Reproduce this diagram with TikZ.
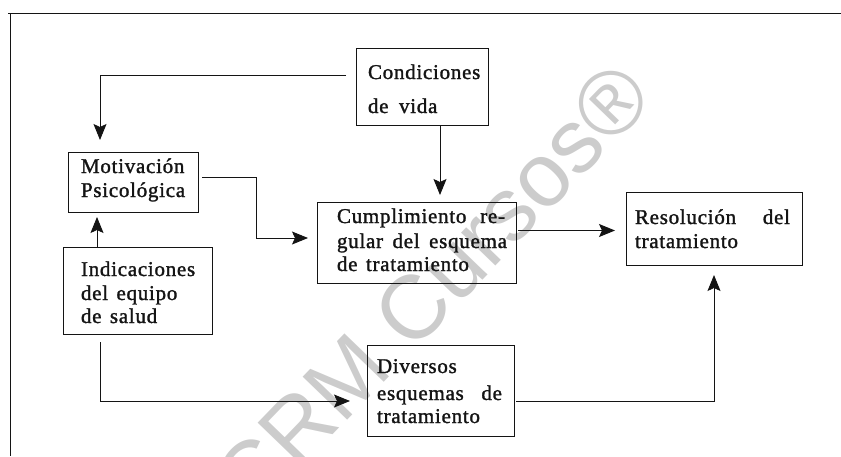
\documentclass[tikz,border=0pt]{standalone}
\usepackage{fontspec}
\setmainfont{Liberation Serif}[LetterSpace=3.5,FakeBold=1.4]
\newfontfamily\wmfont{Liberation Sans}
\usetikzlibrary{arrows.meta}
\definecolor{ink}{gray}{0.08}
\definecolor{wmgray}{gray}{0.80}
\tikzset{
  boxnode/.style={draw=ink, line width=0.9pt, inner sep=0pt, outer sep=0pt},
  txt/.style={anchor=base west, inner sep=0pt, outer sep=0pt, text=ink, font=\fontsize{21}{24}\selectfont},
  arr/.style={draw=ink, line width=0.9pt, -{Stealth[length=16pt,width=13pt,inset=3pt]}},
  framestyle/.style={draw=ink, line width=0.9pt},
  wm/.style={text=wmgray, inner sep=0pt, font=\wmfont\fontsize{90}{90}\selectfont}
}
\begin{document}
\begin{tikzpicture}[x=1pt,y=-1pt]
\useasboundingbox (0,0) rectangle (841,456);
% watermark
\node[wm, rotate=46] (wmark) at (432,288) {CRM Cursos®};
% frame
\draw[framestyle] (841,13) -- (8,13);
\draw[framestyle] (10,13) -- (10,456);
% boxes
\node[boxnode, minimum width=132pt, minimum height=77pt] (cond) at (422,86.5) {};
\node[boxnode, minimum width=130pt, minimum height=60pt] (motiv) at (133,182) {};
\node[boxnode, minimum width=199pt, minimum height=81pt] (cump) at (416.5,242.5) {};
\node[boxnode, minimum width=176pt, minimum height=73pt] (res) at (714,228.5) {};
\node[boxnode, minimum width=149pt, minimum height=87pt] (ind) at (137.5,290.5) {};
\node[boxnode, minimum width=147pt, minimum height=91pt] (div) at (440.5,390.5) {};
% texts
\node[txt] (cond1) at (368,79) {Condiciones};
\node[txt] (cond2) at (368,113) {de\hspace{0.5em}vida};
\node[txt] (mot1) at (81,173) {Motivación};
\node[txt] (mot2) at (81,197) {Psicológica};
\node[txt] (cum1) at (337,223) {\makebox[168pt][s]{Cumplimiento re-}};
\node[txt] (cum2) at (337,248) {\makebox[170pt][s]{gular del esquema}};
\node[txt] (cum3) at (337,271) {de\hspace{0.4em}tratamiento};
\node[txt] (res1) at (635,224) {\makebox[155pt][s]{Resolución del}};
\node[txt] (res2) at (635,248) {tratamiento};
\node[txt] (ind1) at (81,276) {Indicaciones};
\node[txt] (ind2) at (81,300) {del\hspace{0.4em}equipo};
\node[txt] (ind3) at (81,323) {de\hspace{0.4em}salud};
\node[txt] (div1) at (377,373) {Diversos};
\node[txt] (div2) at (377,400) {\makebox[125pt][s]{esquemas de}};
\node[txt] (div3) at (377,423) {tratamiento};
% connectors
\draw[arr, shorten <=10pt, shorten >=12pt] ([yshift=11.5pt]cond.west) -| ([xshift=-33pt]motiv.north);
\draw[arr, shorten >=7pt] ([xshift=18pt]cond.south) -- ([xshift=18pt]cond.south |- cump.north);
\draw[arr, shorten <=4pt, shorten >=9pt] ([yshift=5pt]motiv.east) -- ++(58,0) |- ([yshift=4.5pt]cump.west);
\draw[arr, shorten >=5pt] ([xshift=-40.5pt]ind.north) -- ([xshift=-40.5pt]ind.north |- motiv.south);
\draw[arr, shorten <=8pt, shorten >=17pt] ([xshift=-37.5pt]ind.south) |- ([yshift=-10.5pt]div.west);
\draw[arr, shorten <=2pt, shorten >=11pt] ([yshift=12pt]cump.east) -- ([yshift=12pt]cump.east -| res.west);
\draw[arr, shorten <=2pt, shorten >=10pt] ([yshift=-10.5pt]div.east) -| (res.south);
\end{tikzpicture}
\end{document}
